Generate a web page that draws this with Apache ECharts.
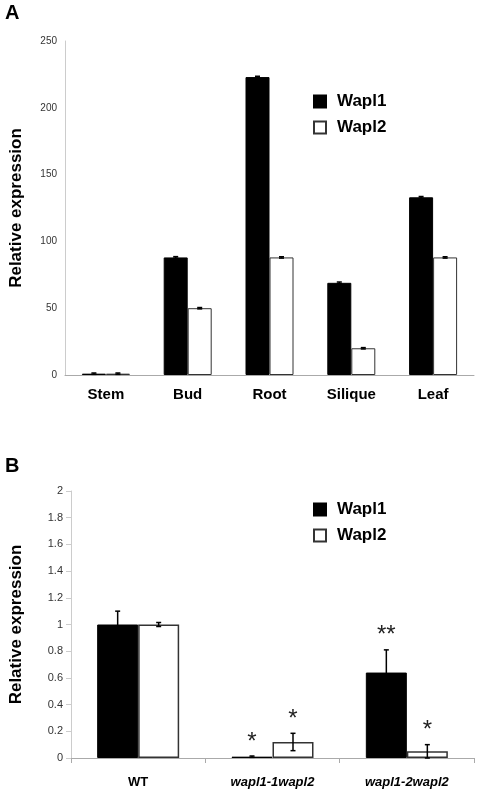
<!DOCTYPE html><html><head><meta charset="utf-8"><script src="https://cdn.jsdelivr.net/npm/echarts@6/dist/echarts.min.js"></script></head><body style="margin:0;background:#fff"><div id="c" style="width:482px;height:800px"></div><script>
const catsA=['Stem','Bud','Root','Silique','Leaf'];
const a1=[1,88,223,69,133], a1e=[0.5,0.6,0.6,0.6,0.6];
const a2=[1,50,88,20,88], a2e=[0.5,0.5,0.5,0.5,0.5];
const catsB=['WT','wapl1-1wapl2','wapl1-2wapl2'];
const b1=[1.0,0.01,0.64], b1e=[0.1,0.005,0.17], b1s=['','*','**'];
const b2=[1.0,0.12,0.05], b2e=[0.015,0.065,0.05], b2s=['','*','*'];
const ticksA=[0,50,100,150,200,250], ticksB=[0,0.2,0.4,0.6,0.8,1,1.2,1.4,1.6,1.8,2];
function err(vals,errs,stars,off,xi,yi){return{type:'custom',xAxisIndex:xi,yAxisIndex:yi,z:5,silent:true,
 data:vals.map((v,i)=>[i,v,errs[i],stars?stars[i]:'']),
 renderItem:(p,api)=>{const i=api.value(0),v=api.value(1),e=api.value(2);const s=stars?stars[p.dataIndex]:'';
  const t=api.coord([i,v+e]),b=api.coord([i,Math.max(0,v-e)]);const x=t[0]+off;const ch=[
  {type:'line',shape:{x1:x,y1:t[1],x2:x,y2:b[1]},style:{stroke:'#000',lineWidth:1.5}},
  {type:'line',shape:{x1:x-2.5,y1:t[1],x2:x+2.5,y2:t[1]},style:{stroke:'#000',lineWidth:1.5}},
  {type:'line',shape:{x1:x-2.5,y1:b[1],x2:x+2.5,y2:b[1]},style:{stroke:'#000',lineWidth:1.5}}];
  if(s)ch.push({type:'text',style:{text:s,x:x,y:t[1]-2,align:'center',verticalAlign:'bottom',font:'24px Arial',fill:'#222'}});
  return{type:'group',children:ch};}};}
const yl={color:'#333',fontSize:10,fontFamily:'Arial'};
const lg={orient:'vertical',itemGap:9,itemWidth:12,itemHeight:12,icon:'rect',textStyle:{fontSize:17,fontWeight:'bold',fontFamily:'Arial',color:'#000',padding:[0,0,0,6]}};
const opt={animation:false,
 graphic:[{type:'text',left:5,top:3,style:{text:'A',font:'bold 20px Arial',fill:'#000'}},
  {type:'text',left:5,top:456,style:{text:'B',font:'bold 20px Arial',fill:'#000'}}],
 legend:[Object.assign({data:['Wapl1','Wapl2'],left:308,top:88},lg),
  Object.assign({data:['Wapl1 ','Wapl2 '],left:308,top:496},lg)],
 grid:[{left:62,top:41,height:334,right:8},{left:68,top:491,height:267,right:8}],
 xAxis:[{type:'category',gridIndex:0,data:catsA,axisTick:{show:false},axisLine:{lineStyle:{color:'#aaa'}},axisLabel:{margin:12,fontSize:15,fontWeight:'bold',fontFamily:'Arial',color:'#000'}},
  {type:'category',gridIndex:1,data:catsB,axisTick:{show:true,lineStyle:{color:'#aaa'}},axisLine:{lineStyle:{color:'#aaa'}},axisLabel:{interval:0,margin:18,fontSize:13,fontWeight:'bold',fontFamily:'Arial',color:'#000',formatter:v=>v==='WT'?v:'{i|'+v+'}',rich:{i:{fontStyle:'italic',fontWeight:'bold',fontSize:13,fontFamily:'Arial'}}}}],
 yAxis:[{type:'value',gridIndex:0,min:0,max:250,interval:50,splitLine:{show:false},axisLine:{show:true,lineStyle:{color:'#ccc'}},axisLabel:yl,name:'Relative expression',nameLocation:'middle',nameGap:40,nameTextStyle:{fontSize:17,fontWeight:'bold',fontFamily:'Arial',color:'#000'}},
  {type:'value',gridIndex:1,min:0,max:2,interval:0.2,splitLine:{show:false},axisLine:{show:true,lineStyle:{color:'#ccc'}},axisTick:{show:true,lineStyle:{color:'#ccc'}},axisLabel:{color:'#333',fontSize:11,fontFamily:'Arial'},name:'Relative expression',nameLocation:'middle',nameGap:46,nameTextStyle:{fontSize:17,fontWeight:'bold',fontFamily:'Arial',color:'#000'}}],
 series:[
  {name:'Wapl1',type:'bar',data:a1,barWidth:24,barGap:'0%',itemStyle:{color:'#000',borderColor:'#000',borderWidth:1}},
  {name:'Wapl2',type:'bar',data:a2,barWidth:24,itemStyle:{color:'#fff',borderColor:'#333',borderWidth:1}},
  err(a1,a1e,null,-12,0,0),err(a2,a2e,null,12,0,0),
  {name:'Wapl1 ',type:'bar',xAxisIndex:1,yAxisIndex:1,data:b1,barWidth:41,barGap:'0%',itemStyle:{color:'#000',borderColor:'#000',borderWidth:1}},
  {name:'Wapl2 ',type:'bar',xAxisIndex:1,yAxisIndex:1,data:b2,barWidth:41,itemStyle:{color:'#fff',borderColor:'#333',borderWidth:1.5}},
  err(b1,b1e,b1s,-20.5,1,1),err(b2,b2e,b2s,20.5,1,1)]};
echarts.init(document.getElementById('c')).setOption(opt);
</script></body></html>
